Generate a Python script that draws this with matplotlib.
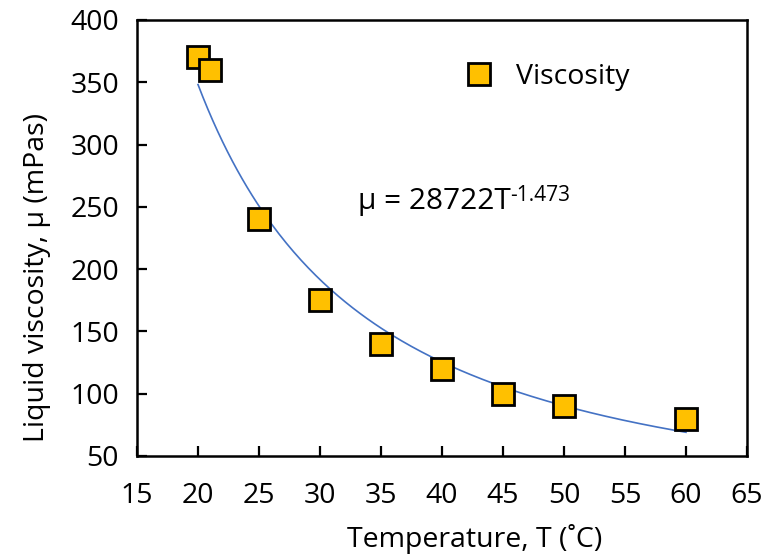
import numpy as np
import matplotlib
matplotlib.use("Agg")
import matplotlib.pyplot as plt

temperature = [20, 21, 25, 30, 35, 40, 45, 50, 60]
viscosity = [370, 360, 240, 175, 140, 120, 100, 90, 80]
fit_coef = 28722
fit_exp = -1.473
xticks = [15, 20, 25, 30, 35, 40, 45, 50, 55, 60, 65]
yticks = [50, 100, 150, 200, 250, 300, 350, 400]

plt.rcParams['font.family'] = ['Open Sans', 'DejaVu Sans']

fig = plt.figure(figsize=(7.63, 5.55), dpi=100)
ax = fig.add_axes([137/763, 1-456/555, (747-137)/763, (456-20)/555])

tfit = np.linspace(min(temperature), max(temperature), 200)
ax.plot(tfit, fit_coef * tfit ** fit_exp, color='#4472C4', lw=1.2, zorder=2)
ax.plot(temperature, viscosity, ls='none', marker='s', ms=16, mfc='#FFC000',
        mec='black', mew=2, label='Viscosity', zorder=3)

ax.set_xlim(15, 65)
ax.set_ylim(50, 400)
ax.set_xticks(xticks)
ax.set_yticks(yticks)
for s in ax.spines.values():
    s.set_linewidth(1.8)
ax.tick_params(direction='in', length=7, width=1.6, labelsize=20.5)
ax.tick_params(axis='x', pad=19)
ax.tick_params(axis='y', pad=13)
ax.set_xlabel('Temperature, T (˚C)', fontsize=20.5, labelpad=8)
ax.set_ylabel('Liquid viscosity, μ (mPas)', fontsize=20.5, labelpad=14)
ax.xaxis.set_label_coords(0.553, -0.155)
ax.yaxis.label.set_y(0.41)

ax.legend(loc='center left', bbox_to_anchor=(0.495, 0.869), frameon=False,
          fontsize=20.5, handletextpad=0.3, borderaxespad=0)
eq = ax.text(0.362, 0.584, 'μ = 28722T', transform=ax.transAxes,
             fontsize=21.5, va='center', ha='left')
ax.annotate(str(fit_exp), xy=(1.0, 1.06), xycoords=eq, fontsize=15,
            va='top', ha='left')

fig.savefig('out.png', dpi=100)
